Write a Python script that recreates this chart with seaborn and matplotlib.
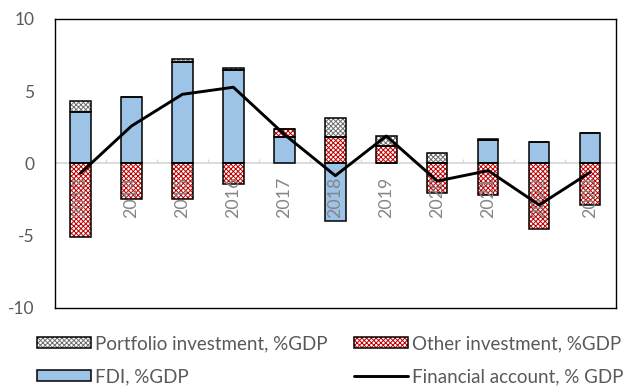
import numpy as np
import pandas as pd
import matplotlib
matplotlib.use("Agg")
import matplotlib.pyplot as plt
import seaborn as sns
from matplotlib.patches import Patch
from matplotlib.lines import Line2D
from matplotlib.legend_handler import HandlerTuple

# Financial account components, % of GDP
years = ["2013", "2014", "2015", "2016", "2017", "2018",
         "2019", "2020", "2021", "2022", "2023"]
fdi = [3.58, 4.62, 7.02, 6.46, 1.84, -4.00, 0.00, 0.00, 1.61, 1.45, 2.12]
other_investment = [-5.13, -2.49, -2.49, -1.41, 0.52, 1.80, 1.22, -2.04, -2.22, -4.57, -2.87]
portfolio = [0.76, 0.00, 0.18, 0.16, 0.00, 1.32, 0.67, 0.69, 0.08, 0.00, 0.00]
financial_account = [-0.69, 2.58, 4.78, 5.27, 2.00, -0.86, 1.89, -1.23, -0.51, -2.89, -0.62]

sns.set_theme(style="white")
plt.rcParams["font.family"] = ["Lato", "DejaVu Sans"]
plt.rcParams["hatch.linewidth"] = 0.7

TEXT = "#595959"
BLUE = "#9dc3e6"
RED = "#c00000"
GREY = "#6e6e6e"
HATCH = "xxxxxxx"

fig = plt.figure(figsize=(6.24, 3.89), dpi=100)
ax = fig.add_axes([0.0881, 0.2093, 0.8986, 0.7419])

df = pd.DataFrame({"year": years, "FDI": fdi,
                   "Other": other_investment, "Portfolio": portfolio})

styles = {
    "FDI": dict(face=BLUE, hatch=None, hcolor=BLUE),
    "Other": dict(face="white", hatch=HATCH, hcolor=RED),
    "Portfolio": dict(face="white", hatch=HATCH, hcolor=GREY),
}

# stack positive and negative contributions separately
pos_base = np.zeros(len(years))
neg_base = np.zeros(len(years))
for name in ["FDI", "Other", "Portfolio"]:
    vals = df[name].to_numpy()
    bottom = np.where(vals >= 0, pos_base, neg_base)
    st = styles[name]
    sns.barplot(data=df, x="year", y=name, bottom=bottom, width=0.4,
                color=st["face"], saturation=1, edgecolor=st["hcolor"],
                linewidth=0, hatch=st["hatch"], errorbar=None, ax=ax, zorder=2)
    sns.barplot(data=df, x="year", y=name, bottom=bottom, width=0.4,
                fill=False, color="black", edgecolor="black", linewidth=1.1,
                errorbar=None, ax=ax, zorder=3)
    pos_base = pos_base + np.where(vals >= 0, vals, 0)
    neg_base = neg_base + np.where(vals < 0, vals, 0)

n = len(years)
ax.set_xlim(-0.5, n - 0.5)
ax.set_ylim(-10, 10)

# zero axis with small category separators
ax.axhline(0, color="#d9d9d9", lw=1.3, zorder=1)
ax.vlines(np.arange(0.5, n - 1), 0, 0.28, color="#d9d9d9", lw=1.0, zorder=1)

# year labels sit just under the zero axis
for i, y in enumerate(years):
    ax.text(i, -0.95, y, rotation=90, ha="center", va="top",
            color="#858585", fontsize=12.8, zorder=4)

sns.lineplot(x=np.arange(n), y=financial_account, color="black",
             linewidth=2.1, ax=ax, zorder=5)

ax.set_xticks([])
ax.set_xlabel("")
ax.set_ylabel("")
ax.set_yticks([-10, -5, 0, 5, 10])
ax.set_yticklabels(["-10", "-5", "0", "5", "10"])
ax.tick_params(axis="y", length=0, pad=15, labelsize=12.5, labelcolor=TEXT)
for sp in ax.spines.values():
    sp.set_visible(True)
    sp.set_color("black")
    sp.set_linewidth(1.0)

handles = [
    (Patch(facecolor="white", edgecolor=GREY, hatch=HATCH, linewidth=0),
     Patch(facecolor="none", edgecolor="black", linewidth=1.1)),
    (Patch(facecolor=BLUE, edgecolor="black", linewidth=1.1),),
    (Patch(facecolor="white", edgecolor=RED, hatch=HATCH, linewidth=0),
     Patch(facecolor="none", edgecolor="black", linewidth=1.1)),
    (Line2D([], [], color="black", linewidth=2.1),),
]
labels = ["Portfolio investment, %GDP", "FDI, %GDP",
          "Other investment, %GDP", "Financial account, % GDP"]
fig.legend(handles, labels, ncol=2, loc="upper left",
           bbox_to_anchor=(0.059, 0.138), frameon=False,
           fontsize=13.5, labelcolor=TEXT, handlelength=2.9,
           handleheight=0.55, handletextpad=0.2, columnspacing=1.4,
           labelspacing=0.85, borderaxespad=0, borderpad=0,
           handler_map={tuple: HandlerTuple(ndivide=1)})

fig.savefig("out.png", dpi=100)
